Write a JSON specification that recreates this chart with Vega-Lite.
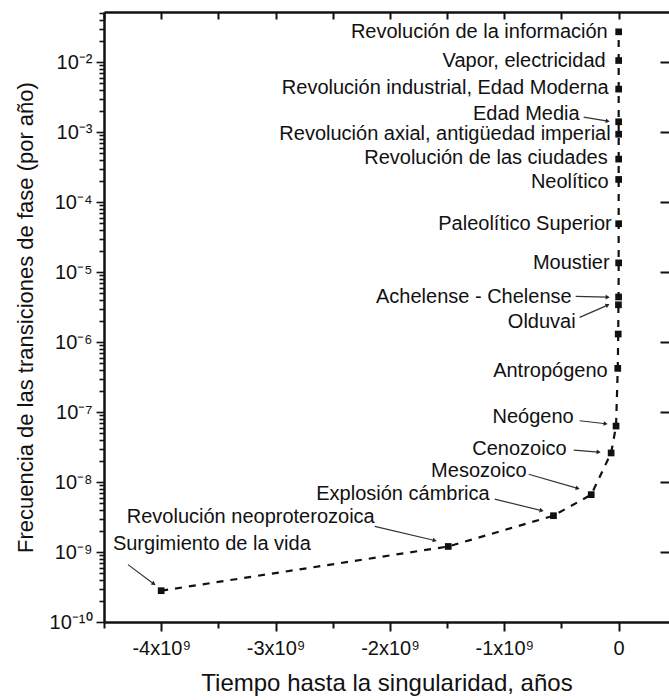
{
  "$schema": "https://vega.github.io/schema/vega-lite/v6.json",
  "width": 565,
  "height": 610,
  "autosize": {"type": "none"},
  "padding": {"left": 104, "top": 12, "right": 0, "bottom": 78},
  "background": "white",
  "config": {
    "view": {"stroke": null},
    "font": "Liberation Sans",
    "axis": {"labelFont": "Liberation Sans", "titleFont": "Liberation Sans", "domainColor": "#111", "tickColor": "#111", "labelColor": "#111", "titleColor": "#111", "grid": false}
  },
  "datasets": {
    "puntos": [
      {"evento": "Surgimiento de la vida", "t": -4.0e9, "f": 2.8e-10},
      {"evento": "Revolución neoproterozoica", "t": -1.49e9, "f": 1.2e-9},
      {"evento": "Explosión cámbrica", "t": -5.7e8, "f": 3.3e-9},
      {"evento": "Mesozoico", "t": -2.4e8, "f": 6.6e-9},
      {"evento": "Cenozoico", "t": -6.6e7, "f": 2.6e-8},
      {"evento": "Neógeno", "t": -2.3e7, "f": 6.3e-8},
      {"evento": "Antropógeno", "t": -8e6, "f": 4.2e-7},
      {"evento": "", "t": -4e6, "f": 1.3e-6},
      {"evento": "Olduvai", "t": -2e6, "f": 3.4e-6},
      {"evento": "Achelense - Chelense", "t": -6e5, "f": 4.4e-6},
      {"evento": "Moustier", "t": -1.5e5, "f": 1.35e-5},
      {"evento": "Paleolítico Superior", "t": -4e4, "f": 4.9e-5},
      {"evento": "Neolítico", "t": -1.1e4, "f": 2.1e-4},
      {"evento": "Revolución de las ciudades", "t": -5000, "f": 4.1e-4},
      {"evento": "Revolución axial, antigüedad imperial", "t": -2700, "f": 9.3e-4},
      {"evento": "Edad Media", "t": -1500, "f": 1.4e-3},
      {"evento": "Revolución industrial, Edad Moderna", "t": -500, "f": 4.1e-3},
      {"evento": "Vapor, electricidad", "t": -200, "f": 1.05e-2},
      {"evento": "Revolución de la información", "t": -40, "f": 2.7e-2}
    ],
    "etiquetas": [
      {"texto": "Revolución de la información", "lx": -9.6e7, "ly": 0.0272},
      {"texto": "Vapor, electricidad", "lx": -1.14e8, "ly": 0.0104},
      {"texto": "Revolución industrial, Edad Moderna", "lx": -8.7e7, "ly": 0.00426},
      {"texto": "Edad Media", "lx": -3.41e8, "ly": 0.0018},
      {"texto": "Revolución axial, antigüedad imperial", "lx": -7.0e7, "ly": 0.00093},
      {"texto": "Revolución de las ciudades", "lx": -9.6e7, "ly": 0.00042},
      {"texto": "Neolítico", "lx": -8.7e7, "ly": 0.000196},
      {"texto": "Paleolítico Superior", "lx": -6.1e7, "ly": 4.9e-5},
      {"texto": "Moustier", "lx": -7.9e7, "ly": 1.35e-5},
      {"texto": "Achelense - Chelense", "lx": -4.11e8, "ly": 4.38e-6},
      {"texto": "Olduvai", "lx": -3.76e8, "ly": 1.91e-6},
      {"texto": "Antropógeno", "lx": -9.6e7, "ly": 3.9e-7},
      {"texto": "Neógeno", "lx": -3.93e8, "ly": 8.5e-8},
      {"texto": "Cenozoico", "lx": -4.54e8, "ly": 2.96e-8},
      {"texto": "Mesozoico", "lx": -8.04e8, "ly": 1.43e-8},
      {"texto": "Explosión cámbrica", "lx": -1.128e9, "ly": 6.7e-9},
      {"texto": "Revolución neoproterozoica", "lx": -2.133e9, "ly": 3.12e-9},
      {"texto": "Surgimiento de la vida", "lx": -2.692e9, "ly": 1.28e-9}
    ],
    "flechas": [
      {"a": "Edad Media", "x1": -3.06e8, "y1": 1.63e-3, "x2": -9.6e7, "y2": 1.43e-3},
      {"a": "Achelense - Chelense", "x1": -3.76e8, "y1": 4.5e-6, "x2": -9.6e7, "y2": 4.38e-6},
      {"a": "Olduvai", "x1": -3.41e8, "y1": 2.25e-6, "x2": -9.6e7, "y2": 3.36e-6},
      {"a": "Neógeno", "x1": -3.41e8, "y1": 7.5e-8, "x2": -1.14e8, "y2": 6.8e-8},
      {"a": "Cenozoico", "x1": -3.93e8, "y1": 2.86e-8, "x2": -1.75e8, "y2": 2.68e-8},
      {"a": "Mesozoico", "x1": -7.87e8, "y1": 1.29e-8, "x2": -3.58e8, "y2": 8.1e-9},
      {"a": "Explosión cámbrica", "x1": -1.084e9, "y1": 5.7e-9, "x2": -6.73e8, "y2": 3.9e-9},
      {"a": "Revolución neoproterozoica", "x1": -2.133e9, "y1": 2.32e-9, "x2": -1.608e9, "y2": 1.46e-9},
      {"a": "Surgimiento de la vida", "x1": -4.29e9, "y1": 6.6e-10, "x2": -4.064e9, "y2": 3.5e-10}
    ]
  },
  "layer": [
    {
      "data": {"name": "puntos"},
      "mark": {"type": "line", "color": "#111", "strokeWidth": 2.2, "strokeDash": [7, 7]},
      "encoding": {
        "x": {
          "field": "t", "type": "quantitative",
          "scale": {"domain": [-4.5e9, 0.44e9], "nice": false, "zero": false},
          "axis": {
            "orient": "bottom",
            "title": "Tiempo hasta la singularidad, años",
            "titleFontSize": 24, "titleFontWeight": "normal", "titlePadding": 13,
            "values": [-4.5e9, -4e9, -3.5e9, -3e9, -2.5e9, -2e9, -1.5e9, -1e9, -0.5e9, 0],
            "labelExpr": "datum.value % 1e9 === 0 ? (datum.value === 0 ? '0' : '-' + abs(datum.value / 1e9) + 'x10⁹') : ''",
            "labelFontSize": 20, "labelPadding": 7, "labelFlush": false, "labelOverlap": false,
            "domainWidth": 2.5, "tickWidth": 2,
            "tickSize": {"condition": {"test": "datum.value % 1e9 === 0", "value": 9}, "value": 6}
          }
        },
        "y": {
          "field": "f", "type": "quantitative",
          "scale": {"type": "log", "domain": [1e-10, 0.0518], "nice": false},
          "axis": {
            "orient": "left",
            "title": "Frecuencia de las transiciones de fase (por año)",
            "titleFontSize": 22, "titleFontWeight": "normal", "titlePadding": 12,
            "values": [1e-10, 2e-10, 3e-10, 4e-10, 5e-10, 6e-10, 7e-10, 8e-10, 9e-10,
                       1e-9, 2e-9, 3e-9, 4e-9, 5e-9, 6e-9, 7e-9, 8e-9, 9e-9,
                       1e-8, 2e-8, 3e-8, 4e-8, 5e-8, 6e-8, 7e-8, 8e-8, 9e-8,
                       1e-7, 2e-7, 3e-7, 4e-7, 5e-7, 6e-7, 7e-7, 8e-7, 9e-7,
                       1e-6, 2e-6, 3e-6, 4e-6, 5e-6, 6e-6, 7e-6, 8e-6, 9e-6,
                       1e-5, 2e-5, 3e-5, 4e-5, 5e-5, 6e-5, 7e-5, 8e-5, 9e-5,
                       1e-4, 2e-4, 3e-4, 4e-4, 5e-4, 6e-4, 7e-4, 8e-4, 9e-4,
                       1e-3, 2e-3, 3e-3, 4e-3, 5e-3, 6e-3, 7e-3, 8e-3, 9e-3,
                       1e-2, 2e-2, 3e-2, 4e-2, 5e-2],
            "labelExpr": "abs(log(datum.value)/LN10 - round(log(datum.value)/LN10)) < 1e-6 ? '10' + ['⁻¹⁰','⁻⁹','⁻⁸','⁻⁷','⁻⁶','⁻⁵','⁻⁴','⁻³','⁻²','⁻¹'][round(log(datum.value)/LN10) + 10] : ''",
            "labelFontSize": 20, "labelPadding": 4, "labelOverlap": false, "labelFlush": false,
            "domainWidth": 2.5, "tickWidth": 1.6,
            "tickSize": {"condition": {"test": "abs(log(datum.value)/LN10 - round(log(datum.value)/LN10)) < 1e-6", "value": 8}, "value": 5}
          }
        }
      }
    },
    {
      "data": {"name": "puntos"},
      "mark": {"type": "point", "shape": "square", "filled": true, "color": "#111", "size": 45, "opacity": 1},
      "encoding": {
        "x": {
          "field": "t", "type": "quantitative",
          "axis": {
            "orient": "top", "title": null, "labels": false,
            "values": [-4.5e9, -4e9, -3.5e9, -3e9, -2.5e9, -2e9, -1.5e9, -1e9, -0.5e9, 0],
            "domainWidth": 2.5, "tickWidth": 2, "tickSize": -7
          }
        },
        "y": {
          "field": "f", "type": "quantitative",
          "axis": {
            "orient": "right", "title": null, "labels": false, "domain": false,
            "values": [1e-9, 1e-8, 1e-7, 1e-6, 1e-5, 1e-4, 1e-3, 1e-2],
            "tickWidth": 2, "tickSize": -9
          }
        }
      }
    },
    {
      "data": {"name": "flechas"},
      "mark": {"type": "rule", "color": "#333", "strokeWidth": 1.2},
      "encoding": {
        "x": {"field": "x1", "type": "quantitative", "axis": null},
        "y": {"field": "y1", "type": "quantitative", "axis": null},
        "x2": {"field": "x2"},
        "y2": {"field": "y2"}
      }
    },
    {
      "data": {"name": "flechas"},
      "mark": {
        "type": "point", "shape": "triangle-right", "filled": true, "color": "#222", "size": 22, "opacity": 1,
        "angle": {"expr": "atan2(scale('y', datum.y2) - scale('y', datum.y1), scale('x', datum.x2) - scale('x', datum.x1)) * 180 / PI"}
      },
      "encoding": {
        "x": {"field": "x2", "type": "quantitative", "axis": null},
        "y": {"field": "y2", "type": "quantitative", "axis": null}
      }
    },
    {
      "data": {"name": "etiquetas"},
      "mark": {"type": "text", "align": "right", "baseline": "middle", "fontSize": 20, "font": "Liberation Sans", "color": "#111"},
      "encoding": {
        "x": {"field": "lx", "type": "quantitative", "axis": null},
        "y": {"field": "ly", "type": "quantitative", "axis": null},
        "text": {"field": "texto"}
      }
    }
  ]
}
